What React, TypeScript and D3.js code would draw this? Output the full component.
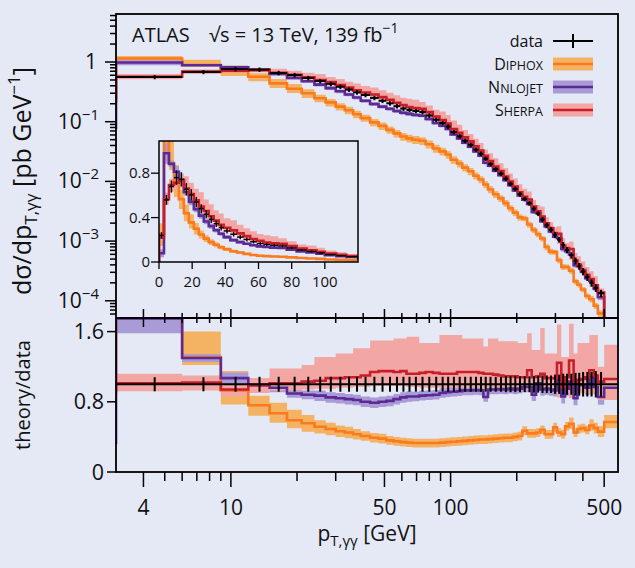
import React from "react";
import * as d3 from "d3";

// ---------------- data ----------------
const binEdges = [0, 3, 6, 9, 12, 15, 18, 21, 24, 27, 30, 33, 36, 39, 43, 47, 51, 55, 59, 63, 67, 72, 77, 83, 89, 95, 100, 107, 113, 120, 127, 134, 141, 148, 156, 165, 174, 183, 192, 202, 212, 223, 234, 245, 256, 268, 280, 293, 305, 319, 332, 346, 363, 378, 392, 410, 428, 448, 468, 500, 700];

const dataValues = [0.24, 0.56, 0.68, 0.76, 0.745, 0.655, 0.605, 0.54, 0.48, 0.43, 0.385, 0.345, 0.31, 0.28, 0.25, 0.224, 0.203, 0.182, 0.166, 0.157, 0.151, 0.145, 0.127, 0.108, 0.095, 0.083, 0.067, 0.057, 0.048, 0.041, 0.034, 0.029, 0.024, 0.0195, 0.016, 0.0135, 0.0111, 0.0091, 0.0075, 0.0061, 0.0051, 0.0043, 0.0035, 0.0029, 0.0023, 0.00185, 0.00155, 0.00128, 0.00106, 0.00086, 0.00071, 0.00058, 0.00047, 0.00038, 0.00031, 0.00025, 0.0002, 0.000165, 0.000134, 0.000025];

const dataErr = [0.12, 0.08, 0.08, 0.085, 0.085, 0.085, 0.085, 0.085, 0.085, 0.085, 0.085, 0.085, 0.085, 0.085, 0.085, 0.085, 0.085, 0.085, 0.085, 0.085, 0.085, 0.085, 0.085, 0.085, 0.085, 0.085, 0.085, 0.085, 0.085, 0.085, 0.085, 0.085, 0.085, 0.085, 0.085, 0.085, 0.09, 0.09, 0.09, 0.09, 0.09, 0.09, 0.095, 0.095, 0.1, 0.1, 0.1, 0.11, 0.11, 0.12, 0.12, 0.12, 0.13, 0.13, 0.14, 0.14, 0.14, 0.15, 0.14, 0.2];

const diphoxRatio = [1.05, 2.05, 1.31, 0.93, 0.76, 0.67, 0.59, 0.555, 0.515, 0.49, 0.465, 0.45, 0.43, 0.41, 0.39, 0.38, 0.36, 0.35, 0.34, 0.335, 0.33, 0.33, 0.33, 0.33, 0.335, 0.34, 0.345, 0.35, 0.355, 0.36, 0.365, 0.37, 0.37, 0.375, 0.38, 0.385, 0.39, 0.39, 0.4, 0.41, 0.47, 0.44, 0.44, 0.45, 0.48, 0.43, 0.43, 0.51, 0.45, 0.43, 0.52, 0.55, 0.45, 0.49, 0.5, 0.48, 0.53, 0.5, 0.46, 0.57];
const diphoxLo = [0.6, 1.85, 1.22, 0.77, 0.64, 0.56, 0.5, 0.46, 0.44, 0.42, 0.4, 0.385, 0.37, 0.355, 0.335, 0.325, 0.31, 0.3, 0.29, 0.285, 0.28, 0.28, 0.28, 0.28, 0.285, 0.29, 0.295, 0.3, 0.305, 0.31, 0.315, 0.32, 0.32, 0.325, 0.33, 0.335, 0.34, 0.34, 0.35, 0.36, 0.42, 0.39, 0.39, 0.4, 0.43, 0.38, 0.38, 0.46, 0.4, 0.38, 0.47, 0.49, 0.4, 0.44, 0.45, 0.43, 0.47, 0.44, 0.4, 0.5];
const diphoxHi = [1.45, 2.25, 1.6, 1.15, 0.87, 0.79, 0.71, 0.65, 0.59, 0.56, 0.53, 0.515, 0.49, 0.465, 0.445, 0.435, 0.41, 0.4, 0.39, 0.385, 0.38, 0.38, 0.38, 0.38, 0.385, 0.39, 0.395, 0.4, 0.405, 0.41, 0.415, 0.42, 0.42, 0.425, 0.43, 0.435, 0.44, 0.44, 0.45, 0.46, 0.52, 0.49, 0.49, 0.5, 0.53, 0.48, 0.48, 0.56, 0.5, 0.48, 0.57, 0.62, 0.5, 0.54, 0.55, 0.53, 0.6, 0.56, 0.52, 0.65];

const nnlojetRatio = [0.33, 1.75, 1.3, 1.07, 0.99, 0.96, 0.895, 0.88, 0.87, 0.85, 0.84, 0.83, 0.82, 0.8, 0.79, 0.8, 0.81, 0.83, 0.85, 0.86, 0.86, 0.87, 0.875, 0.88, 0.9, 0.91, 0.915, 0.92, 0.93, 0.93, 0.935, 0.93, 0.855, 0.94, 0.94, 0.945, 0.94, 0.95, 0.94, 0.95, 0.97, 0.97, 0.88, 1.01, 0.94, 0.95, 0.94, 0.93, 1.05, 0.86, 0.95, 1.03, 0.84, 1.0, 0.99, 0.96, 1.08, 0.97, 0.855, 0.96];
const nnlojetUnc = [0.15, 0.17, 0.045, 0.065, 0.05, 0.05, 0.05, 0.05, 0.06, 0.06, 0.06, 0.06, 0.06, 0.06, 0.06, 0.06, 0.06, 0.06, 0.06, 0.06, 0.055, 0.055, 0.055, 0.055, 0.055, 0.055, 0.055, 0.055, 0.055, 0.055, 0.055, 0.055, 0.055, 0.055, 0.055, 0.055, 0.055, 0.055, 0.055, 0.055, 0.06, 0.06, 0.07, 0.07, 0.07, 0.07, 0.07, 0.07, 0.08, 0.08, 0.08, 0.08, 0.08, 0.08, 0.08, 0.08, 0.08, 0.08, 0.09, 0.14];

const sherpaRatio = [0.92, 1.01, 1.02, 0.94, 0.99, 1.01, 1.01, 1.03, 1.04, 1.07, 1.07, 1.08, 1.08, 1.1, 1.14, 1.15, 1.15, 1.14, 1.15, 1.12, 1.12, 1.13, 1.14, 1.13, 1.12, 1.12, 1.12, 1.14, 1.14, 1.14, 1.14, 1.13, 1.12, 1.12, 1.11, 1.1, 1.09, 1.09, 1.09, 1.08, 1.08, 1.16, 1.08, 1.09, 1.12, 1.07, 1.07, 1.07, 1.245, 0.97, 1.08, 1.27, 1.0, 1.05, 1.06, 1.08, 1.16, 1.1, 1.03, 1.06];
const sherpaLo = [0.8, 0.92, 0.93, 0.86, 0.9, 0.93, 0.93, 0.94, 0.95, 0.95, 0.96, 0.96, 0.97, 0.97, 0.98, 0.98, 0.98, 0.98, 0.98, 0.97, 0.97, 0.96, 0.96, 0.96, 0.96, 0.96, 0.96, 0.96, 0.96, 0.96, 0.96, 0.96, 0.95, 0.96, 0.96, 0.96, 0.95, 0.95, 0.95, 0.95, 0.95, 0.93, 0.94, 0.94, 0.93, 0.94, 0.94, 0.93, 0.85, 0.9, 0.9, 0.84, 0.88, 0.9, 0.9, 0.9, 0.88, 0.9, 0.82, 0.82];
const sherpaHi = [1.1, 1.12, 1.1, 0.99, 1.07, 1.18, 1.18, 1.22, 1.31, 1.31, 1.35, 1.35, 1.41, 1.41, 1.5, 1.5, 1.5, 1.52, 1.52, 1.54, 1.54, 1.47, 1.47, 1.47, 1.56, 1.56, 1.56, 1.56, 1.52, 1.52, 1.52, 1.52, 1.43, 1.52, 1.52, 1.49, 1.49, 1.49, 1.49, 1.47, 1.47, 1.58, 1.39, 1.39, 1.64, 1.35, 1.35, 1.35, 1.68, 1.31, 1.31, 1.69, 1.35, 1.47, 1.47, 1.47, 1.56, 1.56, 1.2, 1.45];

const xTickLabels = [4, 10, 50, 100, 500];
const yTopExponents = [0, -1, -2, -3, -4];
const ratioTicks = [0, 0.8, 1.6];
const insetXTicks = [0, 20, 40, 60, 80, 100];
const insetYTicks = [0, 0.4, 0.8];

// ---------------- styles ----------------
const BG = "#e5e9f6";
const FONT = "'Open Sans', 'Liberation Sans', sans-serif";
const C = {
  diphox: { line: "#f97a1f", band: "#f4b263" },
  nnlojet: { line: "#5b2a95", band: "#a99bd6" },
  sherpa: { line: "#c81e2c", band: "#f2a7a4" },
};

type Pt = [number, number];

function stepPts(vals: number[]): Pt[] {
  const pts: Pt[] = vals.map((v, i) => [binEdges[i], v] as Pt);
  pts.push([binEdges[vals.length], vals[vals.length - 1]]);
  return pts;
}
function bandPts(lo: number[], hi: number[]) {
  const pts = lo.map((l, i) => ({ e: binEdges[i], lo: l, hi: hi[i] }));
  pts.push({ e: binEdges[lo.length], lo: lo[lo.length - 1], hi: hi[hi.length - 1] });
  return pts;
}

export default function App() {
  const L = 116, R = 618, T = 14, M = 318, B = 472;
  const x = d3.scaleLog().domain([3, 578]).range([L, R]);
  // log axis cannot place the 0 edge: place it far left (off the clipped panel)
  const xs = (v: number) => x(Math.max(v, 1));
  const yT = d3.scaleLog().domain([5.15e-5, 6.37]).range([M, T]);
  const yR = d3.scaleLinear().domain([0, 1.755]).range([B, M]);
  const IL = 159, IR = 358, IT = 141, IB = 262;
  const xi = d3.scaleLinear().domain([0, 120]).range([IL, IR]);
  const yi = d3.scaleLinear().domain([0, 1.09]).range([IB, IT]);

  const abs = (r: number[]) => dataValues.map((d, i) => d * r[i]);
  const nnLo = nnlojetRatio.map((r, i) => r - nnlojetUnc[i]);
  const nnHi = nnlojetRatio.map((r, i) => r + nnlojetUnc[i]);

  const series = [
    { key: "diphox", ratio: diphoxRatio, lo: diphoxLo, hi: diphoxHi },
    { key: "nnlojet", ratio: nnlojetRatio, lo: nnLo, hi: nnHi },
    { key: "sherpa", ratio: sherpaRatio, lo: sherpaLo, hi: sherpaHi },
  ];

  const mkLine = (xf: (v: number) => number, yf: (v: number) => number) =>
    d3.line<Pt>().x((d) => xf(d[0])).y((d) => yf(d[1])).curve(d3.curveStepAfter);
  const mkArea = (xf: (v: number) => number, yf: (v: number) => number) =>
    d3.area<{ e: number; lo: number; hi: number }>()
      .x((d) => xf(d.e)).y0((d) => yf(d.lo)).y1((d) => yf(d.hi)).curve(d3.curveStepAfter);

  const lineTop = mkLine(xs, yT), areaTop = mkArea(xs, yT);
  const lineR = mkLine(xs, yR), areaR = mkArea(xs, yR);
  const lineI = mkLine(xi, yi), areaI = mkArea(xi, yi);

  const centers = dataValues.map((_, i) => (binEdges[i] + binEdges[i + 1]) / 2);

  const xAllTicks = x.ticks().filter((t) => t > 3.01 && t < 578);
  const isMajorX = (t: number) => xTickLabels.some((m) => Math.abs(m - t) < 1e-6);
  const yAllTicks = yT.ticks().filter((t) => t >= 5.15e-5 && t <= 6.37);
  const isDecade = (t: number) => Math.abs(Math.log10(t) - Math.round(Math.log10(t))) < 1e-6;

  const frame = 1.8;
  const col = (k: string) => (C as any)[k];

  return (
    <svg width={635} height={568} style={{ position: "absolute", left: 0, top: 0, background: BG }} fontFamily={FONT}>
      <rect x={0} y={0} width={635} height={568} fill={BG} />
      <defs>
        <clipPath id="clipTop"><rect x={L} y={T} width={R - L} height={M - T} /></clipPath>
        <clipPath id="clipRatio"><rect x={L} y={M} width={R - L} height={B - M} /></clipPath>
        <clipPath id="clipInset"><rect x={IL} y={IT} width={IR - IL} height={IB - IT} /></clipPath>
      </defs>

      {/* ---------- top panel ---------- */}
      <g clipPath="url(#clipTop)">
        {series.map((s) => (
          <path key={"tb" + s.key} d={areaTop(bandPts(abs(s.lo), abs(s.hi))) || ""} fill={col(s.key).band} />
        ))}
        {series.map((s) => (
          <path key={"tl" + s.key} d={lineTop(stepPts(abs(s.ratio))) || ""} fill="none" stroke={col(s.key).line} strokeWidth={2.6} />
        ))}
        {dataValues.map((v, i) => (
          <g key={"td" + i}>
            <line x1={xs(binEdges[i])} x2={xs(binEdges[i + 1])} y1={yT(v)} y2={yT(v)} stroke="#000" strokeWidth={2} />
            <line x1={x(centers[i])} x2={x(centers[i])} y1={yT(v * (1 - dataErr[i]))} y2={yT(v * (1 + dataErr[i]))} stroke="#000" strokeWidth={2} />
          </g>
        ))}
      </g>

      {/* ---------- ratio panel ---------- */}
      <g clipPath="url(#clipRatio)">
        {series.map((s) => (
          <path key={"rb" + s.key} d={areaR(bandPts(s.lo, s.hi)) || ""} fill={col(s.key).band} />
        ))}
        {series.map((s) => (
          <path key={"rl" + s.key} d={lineR(stepPts(s.ratio)) || ""} fill="none" stroke={col(s.key).line} strokeWidth={2.6} />
        ))}
        <line x1={L} x2={R} y1={yR(1)} y2={yR(1)} stroke="#000" strokeWidth={2} />
        {dataValues.map((_, i) => (
          <line key={"re" + i} x1={x(centers[i])} x2={x(centers[i])} y1={yR(1 - dataErr[i])} y2={yR(1 + dataErr[i])} stroke="#000" strokeWidth={2} />
        ))}
      </g>

      {/* ---------- frames ---------- */}
      <rect x={L} y={T} width={R - L} height={B - T} fill="none" stroke="#000" strokeWidth={frame} />
      <line x1={L} x2={R} y1={M} y2={M} stroke="#000" strokeWidth={frame} />

      {/* x ticks: mid (both directions) and bottom (outward) */}
      {xAllTicks.map((t) => {
        const maj = isMajorX(t);
        const xx = x(t);
        return (
          <g key={"xt" + t} stroke="#000" strokeWidth={1.5}>
            <line x1={xx} x2={xx} y1={M - (maj ? 9 : 5)} y2={M + (maj ? 9 : 5)} />
            <line x1={xx} x2={xx} y1={B} y2={B + (maj ? 15 : 9)} />
          </g>
        );
      })}
      {xTickLabels.map((t) => (
        <text key={"xl" + t} x={x(t)} y={515} fontSize={21} textAnchor="middle" fill="#111">{t}</text>
      ))}

      {/* y ticks top panel */}
      {yAllTicks.map((t) => {
        const maj = isDecade(t);
        const yy = yT(t);
        return <line key={"yt" + t} x1={L - (maj ? 11 : 6)} x2={L} y1={yy} y2={yy} stroke="#000" strokeWidth={1.5} />;
      })}
      {yTopExponents.map((e) => (
        e === 0 ? (
          <text key={"ye" + e} x={97} y={yT(1) + 7} fontSize={21} textAnchor="end" fill="#111">1</text>
        ) : (
          <text key={"ye" + e} x={99} y={yT(Math.pow(10, e)) + 7} fontSize={21} textAnchor="end" fill="#111">
            10<tspan dy={-9} fontSize={15}>{"\u2212" + Math.abs(e)}</tspan>
          </text>
        )
      ))}

      {/* y ticks ratio panel */}
      {ratioTicks.map((t) => (
        <g key={"rt" + t}>
          <line x1={L - 9} x2={L} y1={yR(t)} y2={yR(t)} stroke="#000" strokeWidth={1.5} />
          <text x={104} y={yR(t) + 7.5} fontSize={21.5} textAnchor="end" fill="#111">{t === 0 ? "0" : t.toFixed(1)}</text>
        </g>
      ))}

      {/* axis titles */}
      <text transform={`translate(31,181) rotate(-90)`} fontSize={25} textAnchor="middle" fill="#111">
        d{"\u03C3"}/dp<tspan dy={6} fontSize={17}>T,{"\u03B3\u03B3"}</tspan><tspan dy={-6}> [pb GeV</tspan><tspan dy={-11} fontSize={17}>{"\u22121"}</tspan><tspan dy={11}>]</tspan>
      </text>
      <text transform={`translate(30,395) rotate(-90)`} fontSize={20} textAnchor="middle" fill="#111">theory/data</text>
      <text x={367} y={541} fontSize={21} textAnchor="middle" fill="#111">
        p<tspan dy={5} fontSize={15}>T,{"\u03B3\u03B3"}</tspan><tspan dy={-5}> [GeV]</tspan>
      </text>

      {/* header */}
      <text x={132} y={42} fontSize={20} fill="#111">ATLAS</text>
      <text x={209} y={42} fontSize={20} fill="#111">
        {"\u221As = 13 TeV, 139 fb"}<tspan dy={-9} fontSize={14}>{"\u22121"}</tspan>
      </text>

      {/* legend */}
      {[
        { big: "", small: "", key: "data" },
        { big: "D", small: "IPHOX", key: "diphox" },
        { big: "N", small: "NLOJET", key: "nnlojet" },
        { big: "S", small: "HERPA", key: "sherpa" },
      ].map((row, i) => {
        const cy = 41 + i * 23;
        return (
          <g key={"lg" + row.key}>
            {row.key === "data" ? (
              <>
                <text x={543} y={cy + 6} fontSize={16} textAnchor="end" fill="#111">data</text>
                <line x1={553} x2={593} y1={cy} y2={cy} stroke="#000" strokeWidth={2} />
                <line x1={573} x2={573} y1={cy - 7} y2={cy + 7} stroke="#000" strokeWidth={2} />
              </>
            ) : (
              <>
                <text x={543} y={cy + 6} fontSize={16} textAnchor="end" fill="#111">
                  {row.big}<tspan fontSize={12.5}>{row.small}</tspan>
                </text>
                <rect x={553} y={cy - 6.5} width={40} height={13} fill={col(row.key).band} />
                <line x1={553} x2={593} y1={cy} y2={cy} stroke={col(row.key).line} strokeWidth={2.6} />
              </>
            )}
          </g>
        );
      })}

      {/* ---------- inset ---------- */}
      <rect x={IL} y={IT} width={IR - IL} height={IB - IT} fill={BG} />
      <g clipPath="url(#clipInset)">
        {series.map((s) => (
          <path key={"ib" + s.key} d={areaI(bandPts(abs(s.lo), abs(s.hi))) || ""} fill={col(s.key).band} />
        ))}
        {series.map((s) => (
          <path key={"il" + s.key} d={lineI([[0, 0] as Pt, ...stepPts(abs(s.ratio))]) || ""} fill="none" stroke={col(s.key).line} strokeWidth={2.6} />
        ))}
        {dataValues.map((v, i) => (
          <g key={"id" + i} stroke="#000" strokeWidth={1.4}>
            <line x1={xi(binEdges[i])} x2={xi(binEdges[i + 1])} y1={yi(v)} y2={yi(v)} />
            <line x1={xi(centers[i])} x2={xi(centers[i])} y1={yi(v * (1 - dataErr[i]))} y2={yi(v * (1 + dataErr[i]))} />
          </g>
        ))}
      </g>
      <rect x={IL} y={IT} width={IR - IL} height={IB - IT} fill="none" stroke="#000" strokeWidth={1.5} />
      {insetXTicks.map((t) => (
        <g key={"ixt" + t}>
          <line x1={xi(t)} x2={xi(t)} y1={IB} y2={IB + 7} stroke="#000" strokeWidth={1.3} />
          <text x={xi(t)} y={287} fontSize={15} textAnchor="middle" fill="#111">{t}</text>
        </g>
      ))}
      {insetYTicks.map((t) => (
        <g key={"iyt" + t}>
          <line x1={IL - 8} x2={IL} y1={yi(t)} y2={yi(t)} stroke="#000" strokeWidth={1.3} />
          <text x={150} y={yi(t) + 5} fontSize={15} textAnchor="end" fill="#111">{t === 0 ? "0" : t.toFixed(1)}</text>
        </g>
      ))}
    </svg>
  );
}
